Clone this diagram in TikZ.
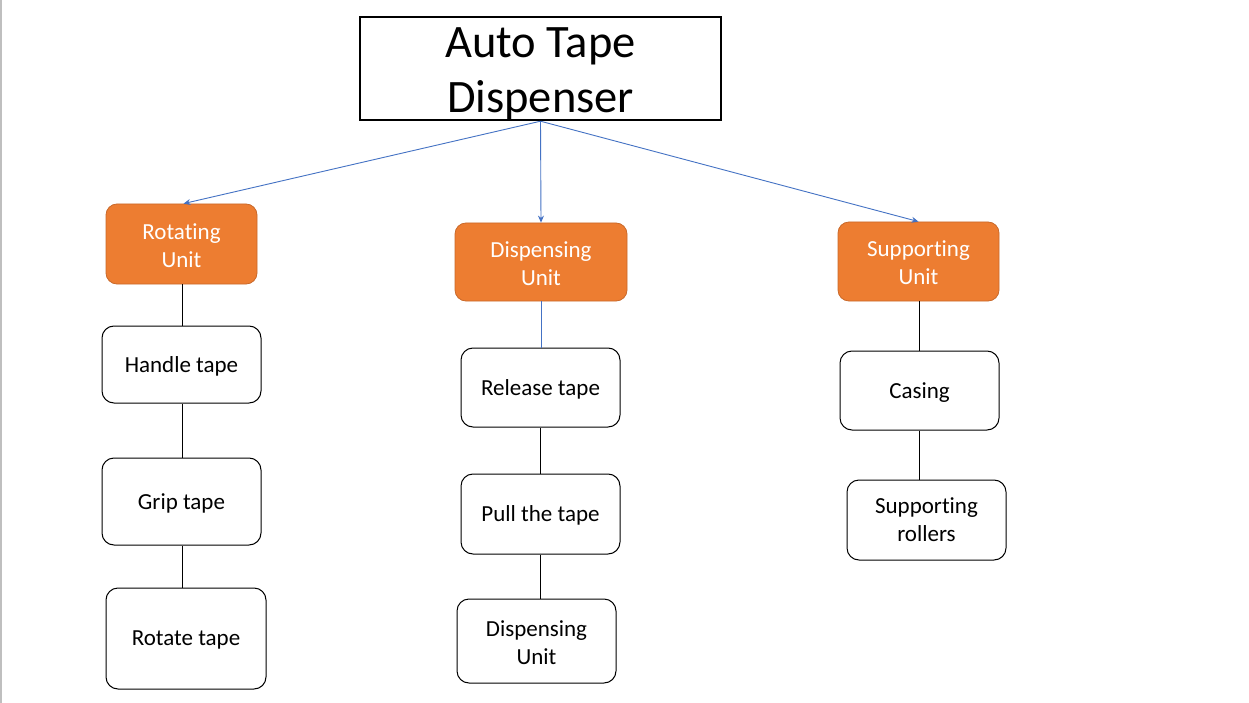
\documentclass[tikz,border=0pt]{standalone}
\usepackage{fontspec}
\setmainfont[Ligatures=NoCommon]{Carlito}
\usetikzlibrary{arrows.meta}
\definecolor{orangeU}{HTML}{ED7D31}
\definecolor{orangeB}{HTML}{C9692A}
\definecolor{blueA}{HTML}{4472C4}
\begin{document}
\begin{tikzpicture}[x=1pt,y=-1pt,
  titlebox/.style={draw=black,line width=2.4pt,minimum width=361pt,minimum height=103pt,inner sep=0pt,align=center},
  titletext/.style={inner sep=0pt,align=center,font=\fontsize{46.5}{55}\selectfont},
  unitbox/.style={draw=orangeB,fill=orangeU,line width=0.8pt,rounded corners=11pt,inner sep=0pt,align=center,text=white,font=\fontsize{23}{28}\selectfont},
  itembox/.style={draw=black,line width=1pt,rounded corners=12pt,inner sep=0pt,align=center,text=black,font=\fontsize{23}{28}\selectfont},
  lowtext/.style={text depth=0pt},
  arr/.style={draw=blueA,line width=0.9pt,-{Stealth[length=7pt,width=6pt]}},
  link/.style={draw=black,line width=1pt},
  blink/.style={draw=blueA,line width=1pt}]
\useasboundingbox (0,0) rectangle (1249,703);
\fill[white] (0,0) rectangle (1249,703);
\draw[gray!50,line width=1.5pt] (0.75,0) -- (0.75,703);

\node[titlebox] (top) at (540.5,68.5) {};
\node[titletext] (toptext) at (540.5,74) {Auto Tape\\Dispenser};

\node[unitbox,minimum width=151pt,minimum height=80pt] (rot) at (181.5,244) {\rule{0pt}{19pt}Rotating\\Unit};
\node[unitbox,minimum width=172pt,minimum height=78pt] (dis) at (541,262) {\rule{0pt}{19pt}Dispensing\\Unit};
\node[unitbox,minimum width=161pt,minimum height=79pt] (sup) at (918.5,261.5) {\rule{0pt}{19pt}Supporting\\Unit};

\node[itembox,lowtext,minimum width=159pt,minimum height=77pt] (handle) at (181.5,364.5) {Handle tape};
\node[itembox,lowtext,minimum width=159pt,minimum height=87pt] (grip) at (181.5,501.5) {Grip tape};
\node[itembox,lowtext,minimum width=160pt,minimum height=101pt] (rotate) at (186,638.5) {Rotate tape};

\node[itembox,lowtext,minimum width=159pt,minimum height=79pt] (release) at (540.5,387.5) {Release tape};
\node[itembox,lowtext,minimum width=159pt,minimum height=80pt] (pull) at (540.5,514) {Pull the tape};
\node[itembox,minimum width=159pt,minimum height=84pt] (dunit) at (536.5,641) {\rule{0pt}{19pt}Dispensing\\Unit};

\node[itembox,lowtext,minimum width=159pt,minimum height=79pt] (casing) at (919.5,390.5) {Casing};
\node[itembox,minimum width=159pt,minimum height=80pt] (roll) at (926.5,520) {Supporting\\rollers};

\coordinate (tb) at (top.south);
\draw[arr] (tb) -- ([xshift=2pt]rot.north);
\draw[arr] (tb) -- (dis.north);
\draw[arr] (tb) -- (sup.north);

\draw[link] ([xshift=0.5pt]rot.south) -- ([xshift=0.5pt]rot.south |- handle.north);
\draw[link] ([xshift=0.5pt]handle.south) -- ([xshift=0.5pt]handle.south |- grip.north);
\draw[link] ([xshift=0.5pt]grip.south) -- ([xshift=0.5pt]grip.south |- rotate.north);

\draw[blink] (dis.south) -- (dis.south |- release.north);
\draw[link] (release.south) -- (release.south |- pull.north);
\draw[link] (pull.south) -- (pull.south |- dunit.north);

\draw[link] ([xshift=0.5pt]sup.south) -- ([xshift=0.5pt]sup.south |- casing.north);
\draw[link] (casing.south) -- (casing.south |- roll.north);
\end{tikzpicture}
\end{document}
